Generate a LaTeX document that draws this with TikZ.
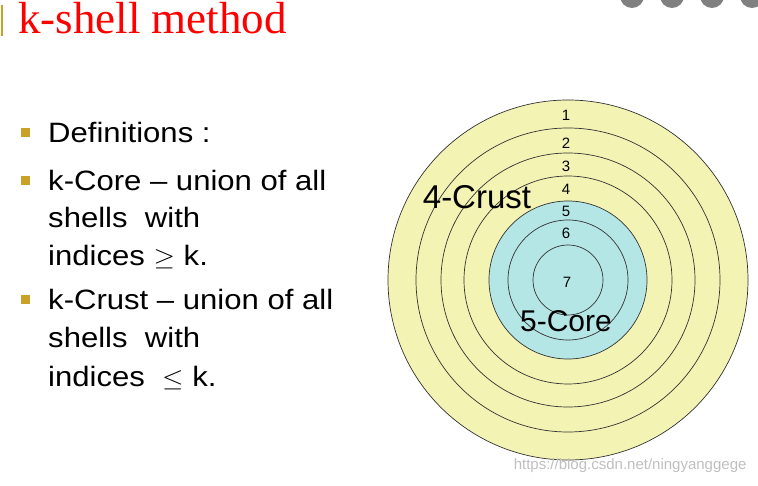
\documentclass[tikz,border=0pt]{standalone}
\usepackage{fontspec}
\setmainfont{Liberation Serif}
\newfontfamily\arial{Liberation Sans}
\begin{document}
\begin{tikzpicture}[x=1pt,y=-1pt,
  ring/.style={draw=black!80,line width=0.7pt},
  num/.style={font=\arial\fontsize{15}{15}\selectfont},
  txt/.style={font=\arial\fontsize{28}{28}\selectfont,anchor=base west,inner sep=0,xscale=1.11},
  bul/.style={fill=bulgold,minimum size=9pt,inner sep=0}]
\definecolor{bulgold}{HTML}{C9A227}
\definecolor{ylw}{HTML}{F3F3B4}
\definecolor{cyn}{HTML}{B4E6E6}
\useasboundingbox (0,0) rectangle (758,486);
% top decorations
\fill[black!50] (632,-4) circle (12);
\fill[black!50] (672,-4) circle (12);
\fill[black!50] (712,-4) circle (12);
\fill[black!50] (752,-4) circle (12);
\draw[bulgold,line width=1.2pt] (2,5) -- (2,36);
\node[anchor=base west,inner sep=0,text=red,font=\fontsize{45}{45}\selectfont] (title) at (18,34) {k-shell method};
% circles
\coordinate (c) at (568,280);
\fill[ylw] (c) circle (180);
\fill[cyn] (c) circle (79);
\foreach \r in {180,152,127,104,79,60,35} \draw[ring] (c) circle (\r);
\node[num] (n1) at (566,115) {1};
\node[num] (n2) at (566,143) {2};
\node[num] (n3) at (566,166) {3};
\node[num] (n4) at (566,189) {4};
\node[num] (n5) at (566,211) {5};
\node[num] (n6) at (566,233) {6};
\node[num] (n7) at (567,282) {7};
\node[font=\arial\fontsize{33}{33}\selectfont] (crust) at (477,197) {4-Crust};
\node[font=\arial\fontsize{30}{30}\selectfont] (core) at (566,321) {5-Core};
% text
\node[bul] (b1) at (25,133) {};
\node[txt] (t1) at (48,143) {Definitions :};
\node[bul] (b2) at (25,181) {};
\node[txt] (t2) at (48,191) {k-Core – union of all};
\node[txt] (t3) at (48,228) {shells\ \ with};
\node[txt] (t4) at (48,266) {indices $\geq$ k.};
\node[bul] (b3) at (25,300) {};
\node[txt] (t5) at (48,310) {k-Crust – union of all};
\node[txt] (t6) at (48,348) {shells\ \ with};
\node[txt] (t7) at (48,387) {indices \ $\leq$ k.};
\node[anchor=east,text=black!25,font=\arial\fontsize{15}{15}\selectfont] (wm) at (750,466) {https://blog.csdn.net/ningyanggege};
\end{tikzpicture}
\end{document}
